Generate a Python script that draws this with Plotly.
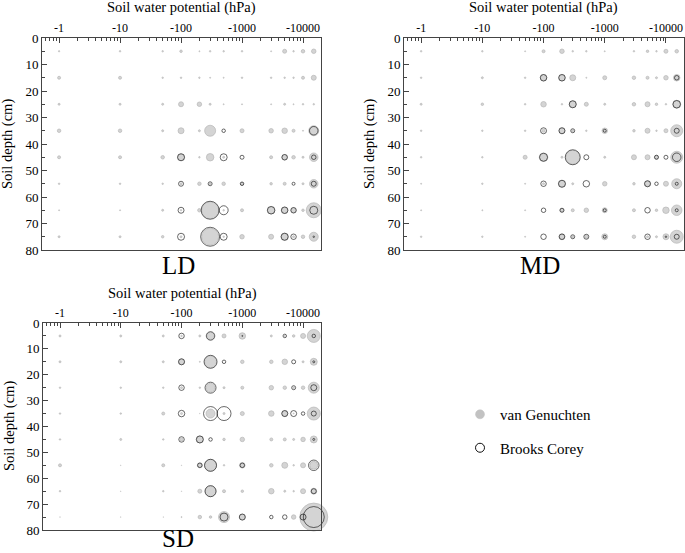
import plotly.graph_objects as go

# ---------------- data ----------------
potentials = [-1, -10, -50, -100, -200, -300, -500, -1000, -3000, -5000, -7000, -10000, -15000]
depths = [5, 15, 25, 35, 45, 55, 65, 75]
tick_vals = [-1, -10, -100, -1000, -10000]
depth_ticks = [0, 10, 20, 30, 40, 50, 60, 70, 80]

# bubble magnitudes: rows = depths, columns = potentials
ld_vg = [
    [1.3, 1.5, 1.5, 2.5, 1, 1.5, 1.5, 1.5, 1, 4, 1.5, 3.5, 4.5],
    [3, 3, 1.5, 1.5, 1.5, 1, 1, 1.5, 1.5, 1.5, 1.5, 3, 5],
    [2, 2, 2, 5, 4.5, 2, 1, 1, 1, 2, 1, 1.5, 1.5],
    [3.5, 3.5, 2, 6, 2, 11, 0, 4, 4.5, 5.5, 3, 1, 10],
    [3, 3, 3.5, 7, 1.5, 7.5, 2, 0, 3, 5.5, 3.5, 2, 8.5],
    [1.5, 1.5, 1.5, 2, 3.5, 2, 3.5, 3, 2.5, 3, 0, 2, 8.5],
    [1, 1, 2, 1.5, 3.5, 17, 1.5, 3, 7.5, 6.5, 5, 2.5, 15],
    [2, 2, 2.5, 2, 0, 17, 1.5, 4.5, 5, 7.5, 2, 3.5, 9],
]
ld_bc = [
    [0, 0, 0, 0, 0, 0, 0, 0, 0, 0, 0, 0, 0],
    [0, 0, 0, 0, 0, 0, 0, 0, 0, 0, 0, 0, 0],
    [0, 0, 0, 0, 0, 0, 0, 0, 0, 0, 0, 0, 0],
    [0, 0, 0, 0, 0, 0, 3.5, 0, 0, 0, 0, 0, 8.5],
    [0, 0, 0, 7, 0, 0, 7, 4, 0, 5.5, 0, 0, 4.5],
    [0, 0, 0, 5, 0, 4, 0, 3.5, 0, 0, 3, 0, 5],
    [0, 0, 0, 6, 0, 18, 9, 0, 7.5, 6.5, 5.5, 0, 8],
    [0, 0, 0, 7, 0, 19, 7, 0, 0, 7, 5.5, 0, 1.5],
]
md_vg = [
    [1.5, 1.5, 1, 3, 4.5, 1.5, 1.5, 1, 1.5, 2.5, 1.5, 4, 3.5],
    [1.5, 2, 1.5, 6.5, 6.5, 6, 1, 4, 3.5, 3, 2, 4.5, 6.5],
    [2, 2.5, 1.5, 5.5, 1.5, 7, 4, 2, 3.5, 5, 2.5, 1.5, 8],
    [1.5, 1.5, 1.5, 3, 6, 2, 1.5, 5.5, 2.5, 5, 1.5, 4, 12],
    [1.5, 1.5, 4, 8.5, 2, 14, 0, 2, 5, 5, 4, 0, 12],
    [1, 1.5, 1, 2, 7, 2, 0, 4.5, 2.5, 6, 0, 5, 10],
    [1, 1, 1, 0, 4, 3, 4.5, 5, 3, 0, 2.5, 6.5, 10.5],
    [1.5, 1.5, 1, 0, 6, 2, 3, 6, 3.5, 2, 2, 6, 13],
]
md_bc = [
    [0, 0, 0, 0, 0, 0, 0, 0, 0, 0, 0, 0, 0],
    [0, 0, 0, 6.5, 6.5, 0, 0, 0, 0, 0, 0, 0, 4.5],
    [0, 0, 0, 0, 0, 7, 0, 0, 0, 0, 0, 0, 7.5],
    [0, 0, 0, 6, 6, 4, 0, 3, 0, 0, 0, 0, 5],
    [0, 0, 0, 8, 0, 15, 5, 0, 0, 0, 4, 4, 8.5],
    [0, 0, 0, 5.5, 7, 0, 6.5, 0, 0, 6, 3.5, 0, 3],
    [0, 0, 0, 4.5, 4, 0, 0, 3, 0, 5.5, 0, 0, 3],
    [0, 0, 0, 5.5, 5.5, 4, 5, 3, 0, 5.5, 0, 1.5, 5],
]
sd_vg = [
    [2, 2, 2, 1.5, 2, 7.5, 4, 6.5, 2, 1, 2.5, 5, 13],
    [2, 2, 2, 6, 1, 12, 0, 3.5, 3.5, 5.5, 0, 2, 7],
    [1.5, 1.5, 1.5, 2, 1.5, 9, 2, 3, 4.5, 3.5, 1.5, 3.5, 11],
    [1.5, 1.5, 3, 2, 0.5, 9, 2, 4, 5.5, 6, 1, 0, 13],
    [1.5, 2, 1.5, 3, 7, 0, 2.5, 4.5, 3, 3, 2, 4.5, 7],
    [3, 0.5, 3, 0.5, 5, 12, 1.5, 5.5, 3.5, 6, 1.5, 5, 8],
    [1.5, 0.5, 1.5, 0.5, 4, 11, 3, 2.5, 5.5, 2, 1.5, 5, 6],
    [0.5, 0.5, 0.5, 1, 3.5, 2.5, 11, 6, 0, 0, 4.5, 5.5, 28],
]
sd_bc = [
    [0, 0, 0, 5.5, 0, 8.5, 0, 1, 0, 3.5, 0, 0, 3.5],
    [0, 0, 0, 6, 0, 13, 3.5, 0, 0, 0, 4, 0, 2],
    [0, 0, 0, 5.5, 0, 11, 0, 0, 0, 0, 4, 0, 6],
    [0, 0, 0, 6.5, 0, 14, 14, 0, 0, 6, 6, 3.5, 5],
    [0, 0, 0, 5.5, 7, 3.5, 0, 0, 0, 0, 0, 0, 2],
    [0, 0, 0, 0, 4.5, 12, 0, 4.5, 0, 0, 0, 0, 10.5],
    [0, 0, 0, 0, 0, 11, 0, 0, 0, 0, 0, 0, 5],
    [0, 0, 0, 0, 0, 0, 8, 6, 3.5, 4.5, 0, 6, 21],
]
panel_names = ["LD", "MD", "SD"]
series_names = ["van Genuchten", "Brooks Corey"]

# ---------------- style ----------------
W, H = 685, 553
FONT = "Times New Roman, Liberation Serif, DejaVu Serif, serif"
VG_FILL = "#c2c2c2"
VG_LINE = "#9a9a9a"
BC_LINE = "#111111"
AX_COLOR = "#444444"
SIZE_SCALE = 1.0

# plot-area boxes in pixels: (left, right, top, bottom)
boxes = {
    "LD": (42, 321, 38, 250),
    "MD": (404, 684, 38, 250),
    "SD": (43, 321, 323, 530),
}
panel_data = {"LD": (ld_vg, ld_bc), "MD": (md_vg, md_bc), "SD": (sd_vg, sd_bc)}


def px_x(p):
    return p / W


def px_y(p):
    return 1 - p / H


fig = go.Figure()
minor_vals = [m * 10 ** e for e in range(-1, 5) for m in range(2, 10)]

for i, name in enumerate(panel_names):
    vg, bc = panel_data[name]
    ax = "" if i == 0 else str(i + 1)
    xs, ys, svg = [], [], []
    bx, by, sbc = [], [], []
    for r, d in enumerate(depths):
        for c, p in enumerate(potentials):
            if vg[r][c] > 0:
                xs.append(-p)
                ys.append(d)
                svg.append(vg[r][c])
            if bc[r][c] > 0:
                bx.append(-p)
                by.append(d)
                sbc.append(bc[r][c])
    fig.add_trace(go.Scatter(
        x=xs, y=ys, mode="markers", xaxis="x" + ax, yaxis="y" + ax,
        name=series_names[0], showlegend=False, cliponaxis=False,
        marker=dict(size=svg, sizemode="diameter", sizeref=1 / SIZE_SCALE,
                    color=VG_FILL, line=dict(color=VG_LINE, width=0.7)),
    ))
    fig.add_trace(go.Scatter(
        x=bx, y=by, mode="markers", xaxis="x" + ax, yaxis="y" + ax,
        name=series_names[1], showlegend=False, cliponaxis=False,
        marker=dict(size=sbc, sizemode="diameter", sizeref=1 / SIZE_SCALE,
                    symbol="circle-open", color=BC_LINE, line=dict(width=0.9)),
    ))

    l, r_, t, b = boxes[name]
    axis_common = dict(showline=True, mirror=True, linecolor=AX_COLOR, linewidth=1,
                       ticks="inside", ticklen=5, tickcolor=AX_COLOR, showgrid=False,
                       zeroline=False, automargin=False,
                       tickfont=dict(family=FONT, size=12, color="black"))
    fig.update_layout(**{
        "xaxis" + ax: dict(
            axis_common, domain=[px_x(l), px_x(r_)], type="log", range=[-0.28, 4.295],
            side="top", anchor="y" + ax,
            tickvals=[-v for v in tick_vals], ticktext=[str(v) for v in tick_vals],
            minor=dict(tickvals=minor_vals, ticks="inside", ticklen=3, tickcolor=AX_COLOR),
        ),
        "yaxis" + ax: dict(
            axis_common, domain=[px_y(b), px_y(t)], range=[80, 0], anchor="x" + ax,
            tickvals=depth_ticks, tickfont=dict(family=FONT, size=13, color="black"),
            minor=dict(dtick=5, ticks="inside", ticklen=3, tickcolor=AX_COLOR),
        ),
    })

# legend-only traces
fig.add_trace(go.Scatter(x=[None], y=[None], mode="markers", name=series_names[0],
                         legendgroup="a",
                         marker=dict(size=9, color=VG_FILL, line=dict(color=VG_FILL, width=0.5))))
fig.add_trace(go.Scatter(x=[None], y=[None], mode="markers", name=series_names[1],
                         legendgroup="b",
                         marker=dict(size=9, symbol="circle-open", color=BC_LINE, line=dict(width=1))))

annotations = []
title_pos = {"LD": ((181, 8), (8, 144), (178, 265, "middle")),
             "MD": ((543, 8), (370, 144), (540, 265, "middle")),
             "SD": ((182, 293), (9, 426), (178, 553, "bottom"))}
for name in panel_names:
    (tx, ty), (yx, yy), (lx, ly, lanchor) = title_pos[name]
    annotations.append(dict(text="Soil water potential (hPa)", x=px_x(tx), y=px_y(ty),
                            xref="paper", yref="paper", showarrow=False,
                            xanchor="center", yanchor="middle",
                            font=dict(family=FONT, size=14.5, color="black")))
    annotations.append(dict(text="Soil depth (cm)", x=px_x(yx), y=px_y(yy),
                            xref="paper", yref="paper", showarrow=False, textangle=-90,
                            xanchor="center", yanchor="middle",
                            font=dict(family=FONT, size=14.5, color="black")))
    annotations.append(dict(text=name, x=px_x(lx), y=px_y(ly),
                            xref="paper", yref="paper", showarrow=False,
                            xanchor="center", yanchor=lanchor, borderpad=0,
                            font=dict(family=FONT, size=25, color="black")))

fig.update_layout(
    width=W, height=H, margin=dict(l=0, r=0, t=0, b=0, autoexpand=False),
    paper_bgcolor="white", plot_bgcolor="white",
    annotations=annotations,
    font=dict(family=FONT, color="black"),
    legend=dict(x=px_x(460), y=px_y(398), xanchor="left", yanchor="top",
                font=dict(family=FONT, size=15, color="black"),
                itemsizing="trace", tracegroupgap=11, bgcolor="rgba(0,0,0,0)"),
)

fig.write_html("out.html", config={"displayModeBar": False},
               post_script="document.body.style.margin='0';document.body.style.padding='0';")
